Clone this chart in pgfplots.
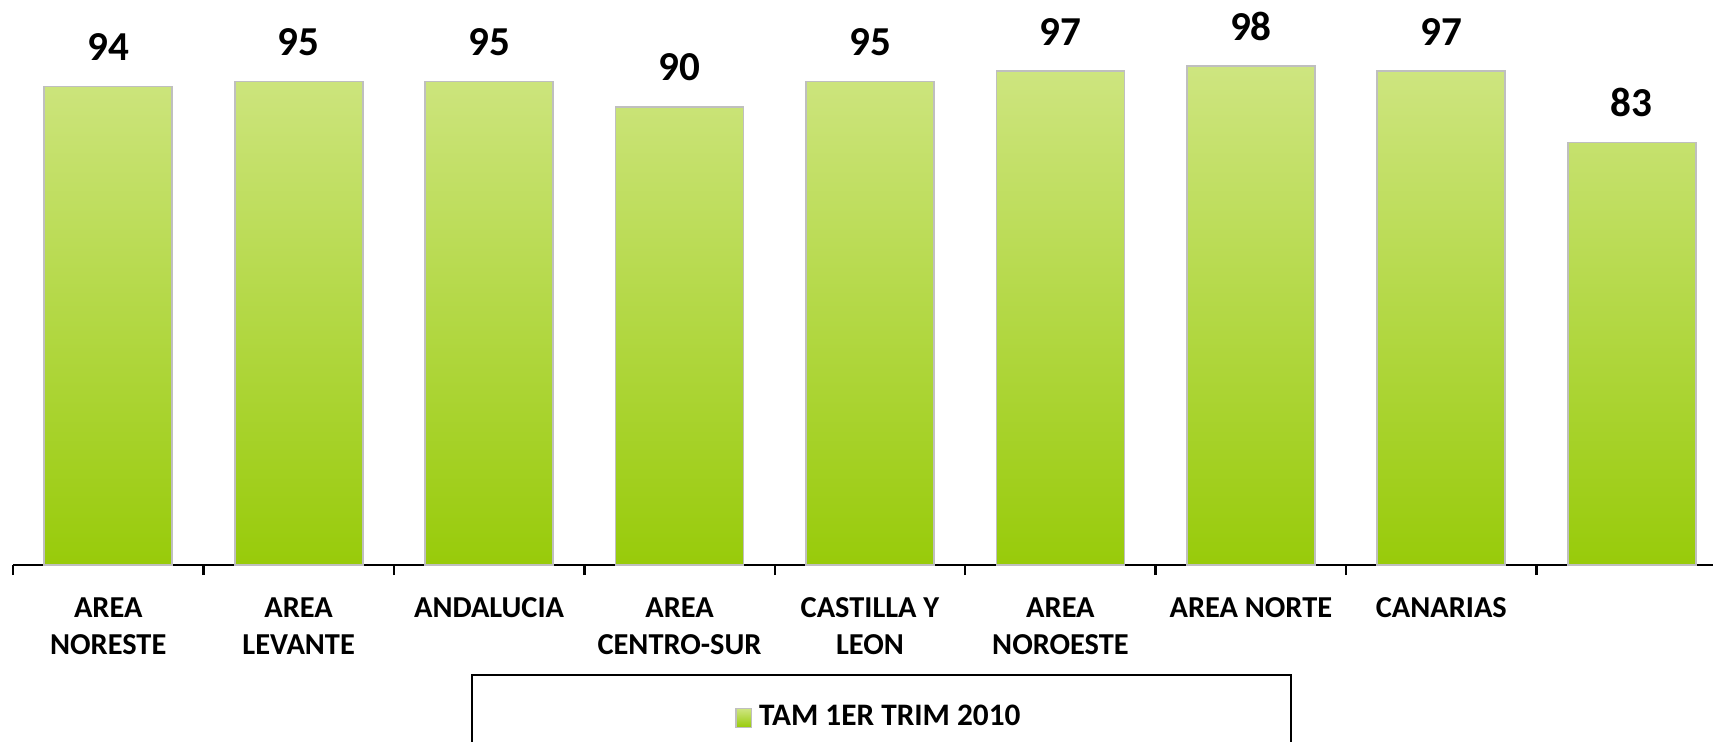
\documentclass[border=0pt]{standalone}
\usepackage{pgfplots}
\pgfplotsset{compat=1.18}
\usepackage{fontspec}
\setmainfont{Carlito}
\definecolor{bartop}{RGB}{206,229,128}
\definecolor{barbot}{RGB}{152,203,10}
\definecolor{barborder}{RGB}{191,191,191}
\begin{document}
\begin{tikzpicture}
\begin{axis}[
  at={(0,0)}, anchor=south west,
  width=171.4mm, height=56.5mm, scale only axis,
  xmin=-0.5, xmax=8.5, ymin=0, ymax=111,
  /pgf/number format/assume math mode=true,
  axis y line=none, axis x line=bottom,
  x axis line style={-, line width=0.7pt, black},
  xtick={0,...,8},
  xticklabels={{AREA\\NORESTE},{AREA\\LEVANTE},{ANDALUCIA},{AREA\\CENTRO-SUR},{CASTILLA Y\\LEON},{AREA\\NOROESTE},{AREA NORTE},{CANARIAS},{}},
  major tick length=0pt,
  xticklabel style={align=center, font={\fontsize{8.65}{10.5}\selectfont\bfseries}, yshift=-2.0mm},
  extra x ticks={-0.5,0.5,...,8.5},
  extra x tick labels={},
  extra x tick style={major tick length=1mm, tick align=outside, tick style={black, line width=0.7pt}},
  ybar, bar width=12.8mm,
  nodes near coords={\pgfmathprintnumber[assume math mode=true]{\pgfplotspointmeta}},
  every node near coord/.append style={font={\fontsize{11.7}{14}\selectfont\bfseries}, anchor=base, yshift=2.6mm},
  legend style={at={(0.5067,-0.193)}, anchor=north, draw=black, line width=0.6pt,
    inner xsep=26.3mm, inner ysep=2.3mm,
    font={\fontsize{8.9}{10}\selectfont\bfseries}},
  legend image code/.code={\draw[#1, line width=0.4pt] (0cm,-0.093cm) rectangle (0.153cm,0.093cm);},
]
\addplot[draw=barborder, line width=0.5pt, top color=bartop, bottom color=barbot]
  coordinates {(0,94) (1,95) (2,95) (3,90) (4,95) (5,97) (6,98) (7,97) (8,83)};
\addlegendentry{TAM 1ER TRIM 2010}
\end{axis}
\pgfresetboundingbox
\path (-1.3mm,-17.6mm) rectangle (170mm,56.5mm);
\end{tikzpicture}
\end{document}
